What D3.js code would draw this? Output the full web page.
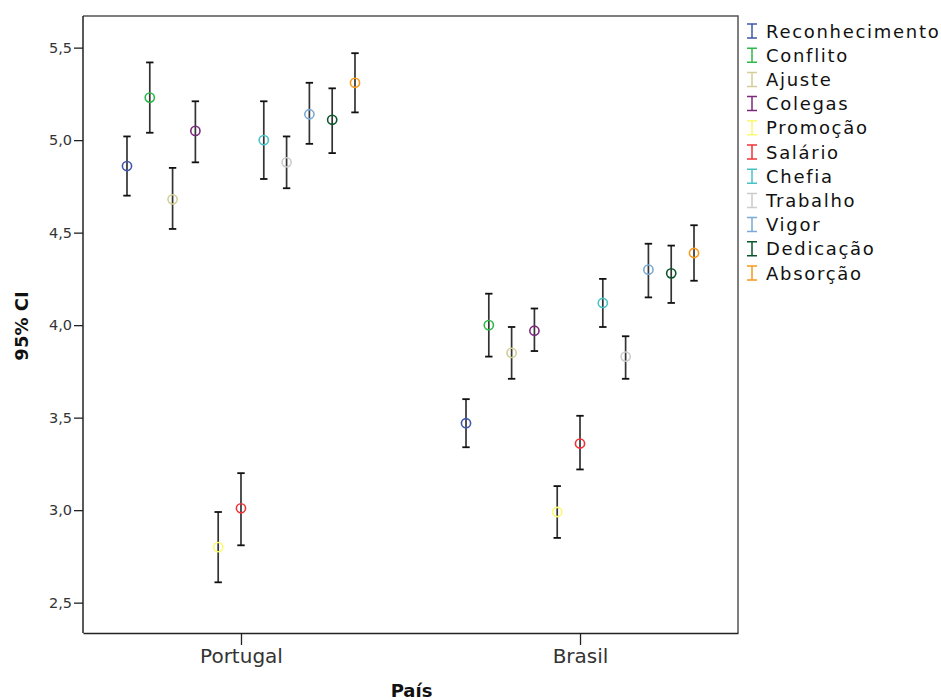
<!DOCTYPE html>
<html lang="pt">
<head>
<meta charset="UTF-8">
<title>95% CI por País</title>
<script src="https://d3js.org/d3.v7.min.js"></script>
<style>
  body { margin: 0; background: #fff; }
  text { font-family: "DejaVu Sans", sans-serif; }
  .tick text { fill: #333; }
</style>
</head>
<body>
<svg width="941" height="700"></svg>
<script>
// categories on the x axis
const countries = ["Portugal", "Brasil"];
// scales (series)
const scales = ["Reconhecimento", "Conflito", "Ajuste", "Colegas", "Promoção", "Salário",
                "Chefia", "Trabalho", "Vigor", "Dedicação", "Absorção"];
const colors = ["#3e58ac", "#2eb848", "#d3ce97", "#7c287d", "#fbf873", "#ef3338",
                "#48c2c5", "#cccccc", "#7aaad5", "#0a562c", "#f8981d"];

// means and 95% CI bounds
const meanPT  = [4.86, 5.23, 4.68, 5.05, 2.80, 3.01, 5.00, 4.88, 5.14, 5.11, 5.31];
const lowerPT = [4.70, 5.04, 4.52, 4.88, 2.61, 2.81, 4.79, 4.74, 4.98, 4.93, 5.15];
const upperPT = [5.02, 5.42, 4.85, 5.21, 2.99, 3.20, 5.21, 5.02, 5.31, 5.28, 5.47];

const meanBR  = [3.47, 4.00, 3.85, 3.97, 2.99, 3.36, 4.12, 3.83, 4.30, 4.28, 4.39];
const lowerBR = [3.34, 3.83, 3.71, 3.86, 2.85, 3.22, 3.99, 3.71, 4.15, 4.12, 4.24];
const upperBR = [3.60, 4.17, 3.99, 4.09, 3.13, 3.51, 4.25, 3.94, 4.44, 4.43, 4.54];

const yTicks = [2.5, 3.0, 3.5, 4.0, 4.5, 5.0, 5.5];

const rows = [];
scales.forEach((s, i) => {
    rows.push({country: "Portugal", scale: s, mean: meanPT[i], lo: lowerPT[i], hi: upperPT[i]});
    rows.push({country: "Brasil", scale: s, mean: meanBR[i], lo: lowerBR[i], hi: upperBR[i]});
});

const svg = d3.select("svg");
const plotL = 83, plotR = 738, plotT = 16, plotB = 633;

const x = d3.scalePoint().domain(countries).range([plotL, plotR]).padding(0.466);
const dx = d3.scalePoint().domain(scales).range([-114, 114]);
const y = d3.scaleLinear().domain([2.336, 5.671]).range([plotB, plotT]);
const color = d3.scaleOrdinal().domain(scales).range(colors);

const pt = d3.formatLocale({decimal: ",", thousands: ".", grouping: [3], currency: ["", ""]});

// frame (top and right)
svg.append("path")
    .attr("d", `M${plotL},${plotT}H${plotR}V${plotB}`)
    .attr("fill", "none")
    .attr("stroke", "#555")
    .attr("stroke-width", 1.5);

// y axis
const yAxis = svg.append("g")
    .attr("transform", `translate(${plotL},0)`)
    .call(d3.axisLeft(y).tickValues(yTicks).tickFormat(pt.format(".1f")).tickSize(9).tickSizeOuter(0));
yAxis.select(".domain").attr("stroke", "#222").attr("stroke-width", 1.5)
    .attr("d", `M0,${plotT}V${plotB}`);
yAxis.selectAll(".tick line").attr("stroke", "#222").attr("stroke-width", 1.3);
yAxis.selectAll(".tick text").attr("font-size", 14.5).attr("x", -11);

// x axis
const xAxis = svg.append("g")
    .attr("transform", `translate(0,${plotB})`)
    .call(d3.axisBottom(x).tickSize(12).tickSizeOuter(0));
xAxis.select(".domain").attr("stroke", "#222").attr("stroke-width", 1.5);
xAxis.selectAll(".tick line").attr("stroke", "#222").attr("stroke-width", 1.3);
xAxis.selectAll(".tick text").attr("font-size", 20).attr("dy", "0.71em").attr("y", 16);

// axis titles
svg.append("text")
    .attr("x", (plotL + plotR) / 2 + 1)
    .attr("y", 697)
    .attr("text-anchor", "middle")
    .attr("font-size", 18)
    .attr("font-weight", "bold")
    .attr("fill", "#111")
    .text("País");

svg.append("text")
    .attr("transform", "translate(28,326) rotate(-90)")
    .attr("text-anchor", "middle")
    .attr("font-size", 18)
    .attr("font-weight", "bold")
    .attr("fill", "#111")
    .text("95% CI");

// error bars
const bars = svg.append("g").selectAll("g")
    .data(rows)
    .enter().append("g")
    .attr("transform", d => `translate(${x(d.country) + dx(d.scale)},0)`);

bars.append("line")
    .attr("y1", d => y(d.lo))
    .attr("y2", d => y(d.hi))
    .attr("stroke", "#333")
    .attr("stroke-width", 1.7);

bars.selectAll(".cap")
    .data(d => [d.lo, d.hi])
    .enter().append("line")
    .attr("class", "cap")
    .attr("x1", -3.7).attr("x2", 3.7)
    .attr("y1", v => y(v)).attr("y2", v => y(v))
    .attr("stroke", "#111")
    .attr("stroke-width", 1.8);

bars.append("circle")
    .attr("cy", d => y(d.mean))
    .attr("r", 4.6)
    .attr("fill", "none")
    .attr("stroke", d => color(d.scale))
    .attr("stroke-width", 1.6);

// legend
const legend = svg.append("g").selectAll("g")
    .data(scales)
    .enter().append("g")
    .attr("transform", (d, i) => `translate(752,${31 + i * 24.2})`);

legend.append("path")
    .attr("d", "M-5,-7H5M0,-7V7M-5,7H5")
    .attr("fill", "none")
    .attr("stroke", d => color(d))
    .attr("stroke-width", 1.5);

legend.append("text")
    .attr("x", 14)
    .attr("y", 6.5)
    .attr("font-size", 18)
    .attr("letter-spacing", 1.7)
    .attr("fill", "#111")
    .text(d => d);
</script>
</body>
</html>
